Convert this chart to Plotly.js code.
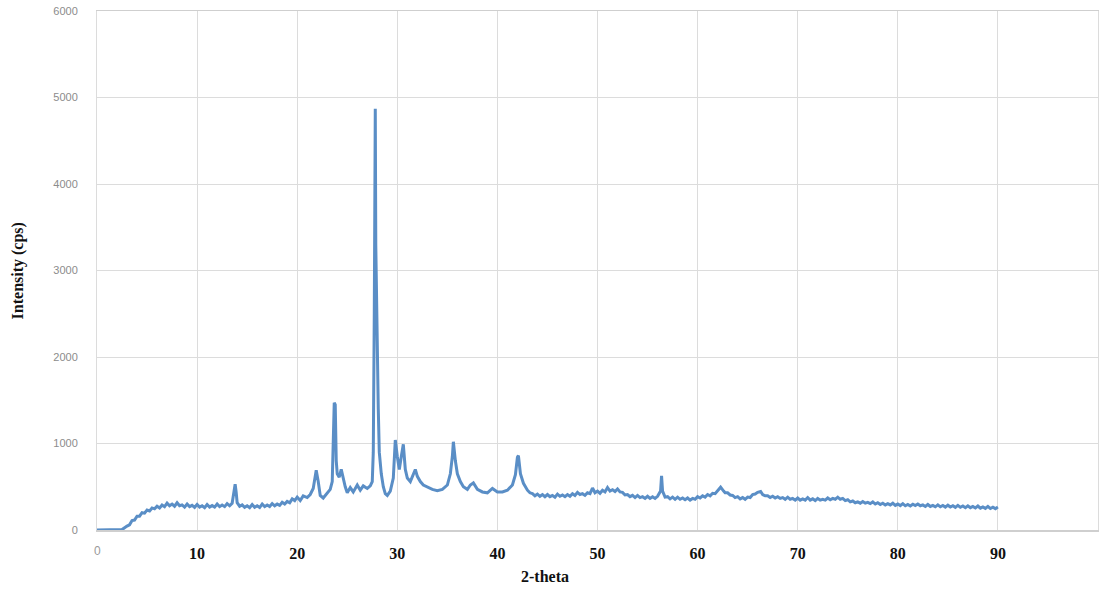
<!DOCTYPE html>
<html>
<head>
<meta charset="utf-8">
<script src="https://cdn.plot.ly/plotly-3.0.1.min.js"></script>
<style>html,body{margin:0;padding:0;background:#fff;}#chart{width:1100px;height:593px;}</style>
</head>
<body>
<div id="chart"></div>
<script>
const twoTheta = [
  0, 1, 2, 2.5, 3, 3.25, 3.5, 3.75, 4, 4.25,
  4.5, 4.75, 5, 5.25, 5.5, 5.75, 6, 6.25, 6.5, 6.75,
  7, 7.25, 7.5, 7.75, 8, 8.25, 8.5, 8.75, 9, 9.25,
  9.5, 9.75, 10, 10.25, 10.5, 10.75, 11, 11.25, 11.5, 11.75,
  12, 12.25, 12.5, 12.75, 13, 13.25, 13.5, 13.7, 13.8, 13.9,
  14, 14.25, 14.5, 14.75, 15, 15.25, 15.5, 15.75, 16, 16.25,
  16.5, 16.75, 17, 17.25, 17.5, 17.75, 18, 18.25, 18.5, 18.75,
  19, 19.25, 19.5, 19.75, 20, 20.3, 20.6, 21, 21.3, 21.6,
  21.9, 22.1, 22.3, 22.6, 23, 23.3, 23.5, 23.6, 23.7, 23.8,
  23.9, 24, 24.2, 24.4, 24.6, 24.8, 25, 25.3, 25.6, 26,
  26.3, 26.6, 27, 27.3, 27.5, 27.6, 27.7, 27.75, 27.8, 27.85,
  27.9, 28, 28.1, 28.2, 28.4, 28.6, 28.8, 29, 29.3, 29.6,
  29.8, 30, 30.2, 30.4, 30.6, 30.8, 31, 31.3, 31.6, 31.8,
  32, 32.3, 32.6, 33, 33.5, 34, 34.5, 35, 35.3, 35.5,
  35.6, 35.8, 36, 36.3, 36.6, 37, 37.3, 37.6, 38, 38.5,
  39, 39.5, 40, 40.5, 41, 41.5, 41.8, 42, 42.1, 42.3,
  42.6, 43, 43.25, 43.5, 43.75, 44, 44.25, 44.5, 44.75, 45,
  45.25, 45.5, 45.75, 46, 46.25, 46.5, 46.75, 47, 47.25, 47.5,
  47.75, 48, 48.25, 48.5, 48.75, 49, 49.25, 49.5, 49.75, 50,
  50.25, 50.5, 50.75, 51, 51.25, 51.5, 51.75, 52, 52.25, 52.5,
  52.75, 53, 53.25, 53.5, 53.75, 54, 54.25, 54.5, 54.75, 55,
  55.25, 55.5, 55.75, 56, 56.3, 56.4, 56.5, 56.75, 57, 57.25,
  57.5, 57.75, 58, 58.25, 58.5, 58.75, 59, 59.25, 59.5, 59.75,
  60, 60.25, 60.5, 60.75, 61, 61.25, 61.5, 61.75, 62, 62.3,
  62.6, 62.75, 63, 63.25, 63.5, 63.75, 64, 64.25, 64.5, 64.75,
  65, 65.25, 65.5, 65.75, 66, 66.3, 66.5, 66.75, 67, 67.25,
  67.5, 67.75, 68, 68.25, 68.5, 68.75, 69, 69.25, 69.5, 69.75,
  70, 70.25, 70.5, 70.75, 71, 71.25, 71.5, 71.75, 72, 72.25,
  72.5, 72.75, 73, 73.25, 73.5, 73.75, 74, 74.25, 74.5, 74.75,
  75, 75.25, 75.5, 75.75, 76, 76.25, 76.5, 76.75, 77, 77.25,
  77.5, 77.75, 78, 78.25, 78.5, 78.75, 79, 79.25, 79.5, 79.75,
  80, 80.25, 80.5, 80.75, 81, 81.25, 81.5, 81.75, 82, 82.25,
  82.5, 82.75, 83, 83.25, 83.5, 83.75, 84, 84.25, 84.5, 84.75,
  85, 85.25, 85.5, 85.75, 86, 86.25, 86.5, 86.75, 87, 87.25,
  87.5, 87.75, 88, 88.25, 88.5, 88.75, 89, 89.25, 89.5, 89.75,
  90
];
const intensity = [
  0, 0, 0, 5, 45, 60, 110, 115, 160, 160,
  200, 195, 230, 220, 255, 245, 275, 255, 290, 270,
  310, 280, 300, 275, 315, 280, 290, 265, 300, 270,
  285, 262, 295, 265, 280, 258, 295, 265, 282, 265,
  300, 270, 288, 270, 305, 280, 310, 430, 530, 440,
  315, 275, 290, 262, 280, 258, 295, 262, 280, 260,
  300, 270, 290, 272, 305, 280, 300, 285, 320, 300,
  330, 315, 360, 340, 380, 340, 395, 375, 410, 480,
  690, 560, 400, 370, 420, 470, 560, 900, 1470, 1450,
  800, 650, 610, 700, 580, 500, 430, 490, 440, 520,
  460, 510, 480, 510, 560, 900, 2500, 3400, 4870, 3300,
  2900, 1800, 1400, 900, 650, 500, 420, 400, 450, 600,
  1040, 850, 700, 850, 990, 700, 600, 560, 640, 700,
  620, 560, 520, 500, 470, 455, 470, 520, 650, 850,
  1020, 800, 650, 560, 500, 470, 520, 545, 470, 440,
  430, 480, 440, 440, 460, 520, 640, 840, 860, 650,
  540, 460, 430, 420, 395, 415, 390, 410, 385, 410,
  385, 400, 380, 415, 390, 405, 385, 410, 390, 420,
  400, 435, 410, 420, 400, 430, 420, 485, 430, 450,
  425, 460, 440, 490, 450, 465, 445, 475, 440, 435,
  405, 410, 385, 400, 375, 400, 375, 385, 365, 390,
  365, 385, 365, 390, 450, 625, 450, 380, 385, 360,
  380, 355, 380, 355, 370, 350, 370, 345, 365, 355,
  385, 370, 395, 380, 410, 395, 425, 420, 460, 495,
  450, 430, 430, 405, 400, 375, 385, 360, 375, 355,
  380, 375, 410, 415, 435, 445, 410, 395, 395, 375,
  390, 370, 385, 365, 375, 355, 380, 355, 365, 345,
  370, 345, 360, 345, 375, 345, 360, 340, 365, 345,
  355, 345, 370, 350, 365, 355, 380, 355, 365, 340,
  350, 325, 335, 315, 325, 310, 330, 310, 320, 305,
  325, 300, 315, 295, 310, 290, 305, 290, 310, 285,
  300, 282, 305, 280, 295, 278, 298, 282, 300, 280,
  290, 272, 295, 272, 285, 268, 290, 268, 283, 265,
  287, 266, 281, 262, 285, 262, 277, 258, 280, 258,
  273, 255, 277, 252, 267, 250, 273, 248, 263, 247,
  266
];
const xTickVals = [0, 10, 20, 30, 40, 50, 60, 70, 80, 90];
const xTickText = [' ', '10', '20', '30', '40', '50', '60', '70', '80', '90'];
const yTickVals = [0, 1000, 2000, 3000, 4000, 5000, 6000];
const xTitle = '2-theta';
const yTitle = 'Intensity (cps)';

const trace = {
  x: twoTheta, y: intensity, type: 'scatter', mode: 'lines',
  line: {color: '#5a8ec6', width: 3}, hoverinfo: 'skip'
};
const layout = {
  width: 1100, height: 593,
  margin: {l: 97, r: 2, t: 11, b: 63},
  paper_bgcolor: '#ffffff', plot_bgcolor: '#ffffff',
  showlegend: false,
  xaxis: {
    range: [0, 100], tickvals: xTickVals, ticktext: xTickText,
    showgrid: true, gridcolor: '#dcdcdc', gridwidth: 1,
    zeroline: false, showline: true, linecolor: '#cfcfcf', linewidth: 1.5, mirror: true,
    ticks: '', ticklabelstandoff: 8,
    tickfont: {family: 'Liberation Serif, serif', size: 16, color: '#111111', weight: 'bold'}
  },
  yaxis: {
    range: [0, 6000], tickvals: yTickVals,
    showgrid: true, gridcolor: '#dcdcdc', gridwidth: 1,
    zeroline: false, showline: true, linecolor: '#dcdcdc', linewidth: 1, mirror: true,
    ticks: '', ticklabelstandoff: 16,
    tickfont: {family: 'Liberation Sans, sans-serif', size: 11, color: '#8c8c8c'}
  },
  annotations: [
    {text: '0', xref: 'x', yref: 'paper', x: 0, y: -0.041, yanchor: 'middle', showarrow: false,
     font: {family: 'Liberation Sans, sans-serif', size: 12, color: '#9a9a9a'}},
    {text: '<b>' + xTitle + '</b>', xref: 'paper', yref: 'paper', x: 0.448, y: -0.089, yanchor: 'middle', showarrow: false,
     font: {family: 'Liberation Serif, serif', size: 16, color: '#111111'}},
    {text: '<b>' + yTitle + '</b>', xref: 'paper', yref: 'paper', x: -0.079, y: 0.5, xanchor: 'center', yanchor: 'middle',
     textangle: -90, showarrow: false,
     font: {family: 'Liberation Serif, serif', size: 16, color: '#111111'}}
  ]
};
Plotly.newPlot('chart', [trace], layout, {displayModeBar: false, staticPlot: true});
</script>
</body>
</html>
